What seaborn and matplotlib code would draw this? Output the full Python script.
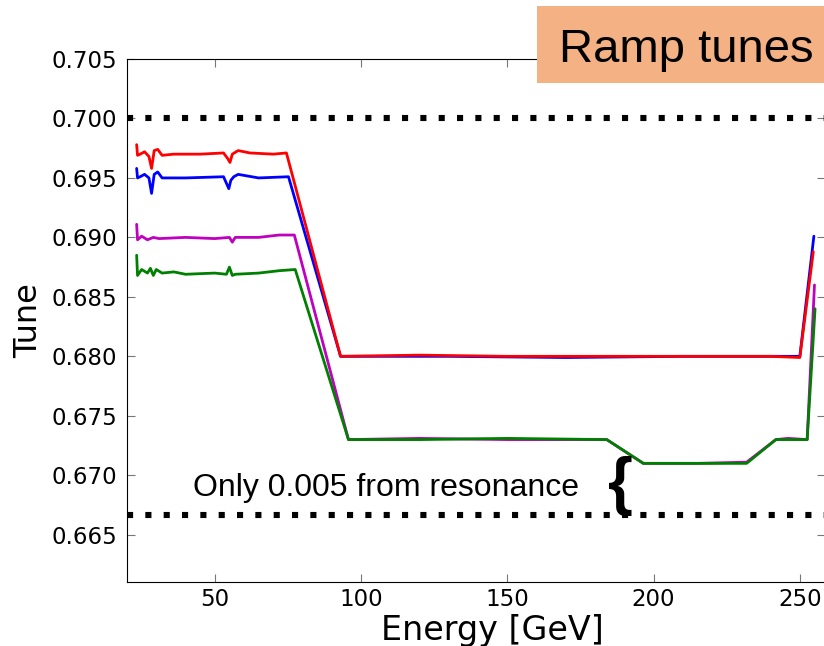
import matplotlib
matplotlib.use("Agg")
import matplotlib.pyplot as plt
import seaborn as sns
import pandas as pd
from matplotlib.patches import Rectangle

# tune values
red_energy = [23.3, 23.6, 24.5, 26, 27.5, 28.4, 29.3, 30.5, 32, 36, 45, 53, 54.5, 55.2, 56, 58, 62, 70, 74.5,
              93, 120, 150, 180, 210, 240, 250, 254.6]
red_tune = [0.6978, 0.6969, 0.6970, 0.6972, 0.6968, 0.6958, 0.6973, 0.6974, 0.6969, 0.6970, 0.6970, 0.6971,
            0.6966, 0.6963, 0.6970, 0.6973, 0.6971, 0.6970, 0.6971, 0.6800, 0.6801, 0.6800, 0.6800, 0.6800,
            0.6800, 0.6799, 0.6888]

blue_energy = [23.3, 23.6, 24.5, 26, 27.5, 28.4, 29.3, 30.5, 32, 40, 53, 54.8, 55.5, 56.5, 58, 65, 75.2,
               93, 130, 170, 210, 245, 250, 254.8]
blue_tune = [0.6958, 0.6950, 0.6951, 0.6953, 0.6950, 0.6937, 0.6953, 0.6955, 0.6950, 0.6950, 0.6951, 0.6941,
             0.6948, 0.6951, 0.6953, 0.6950, 0.6951, 0.6800, 0.6800, 0.6799, 0.6800, 0.6800, 0.6800, 0.6901]

magenta_energy = [23.3, 23.6, 25, 27, 29, 31, 40, 50, 55, 56, 57, 65, 72, 77.2, 95.7, 120, 150, 184, 196.5,
                  215, 231.8, 241.8, 246, 252.5, 255]
magenta_tune = [0.6911, 0.6898, 0.6901, 0.6898, 0.6900, 0.6899, 0.6900, 0.6899, 0.6900, 0.6896, 0.6900,
                0.6900, 0.6902, 0.6902, 0.6730, 0.6731, 0.6730, 0.6730, 0.6710, 0.6710, 0.6711, 0.6730,
                0.6731, 0.6730, 0.6860]

green_energy = [23.3, 23.6, 25, 27, 28, 29, 30, 32, 36, 40, 50, 54, 55, 56, 57, 65, 72, 77.5, 95.7, 120, 150,
                184, 196.5, 215, 231.8, 241.8, 246, 252.5, 255.2]
green_tune = [0.6885, 0.6868, 0.6873, 0.6870, 0.6874, 0.6868, 0.6873, 0.6870, 0.6871, 0.6869, 0.6870, 0.6869,
              0.6875, 0.6868, 0.6869, 0.6870, 0.6872, 0.6873, 0.6730, 0.6730, 0.6731, 0.6730, 0.6710, 0.6710,
              0.6710, 0.6730, 0.6730, 0.6730, 0.6840]

resonances = [0.700, 2 / 3]
x_ticks = [50, 100, 150, 200, 250]
y_ticks = [0.665, 0.670, 0.675, 0.680, 0.685, 0.690, 0.695, 0.700, 0.705]

frames = []
for name, e, t in [("blue", blue_energy, blue_tune), ("red", red_energy, red_tune),
                   ("magenta", magenta_energy, magenta_tune), ("green", green_energy, green_tune)]:
    frames.append(pd.DataFrame({"Energy": e, "Tune": t, "series": name}))
df = pd.concat(frames, ignore_index=True)

palette = {"red": "#ff0000", "blue": "#0000ff", "magenta": "#bf00bf", "green": "#008000"}

sns.set_style("white", {"xtick.direction": "in", "ytick.direction": "in",
                        "xtick.bottom": True, "ytick.left": True,
                        "axes.edgecolor": "black", "axes.linewidth": 1.0,
                        "text.color": "black", "axes.labelcolor": "black",
                        "xtick.color": "black", "ytick.color": "black"})
plt.rcParams["font.family"] = ["DejaVu Sans"]

fig = plt.figure(figsize=(8.24, 6.46), dpi=100)
ax = fig.add_axes([127 / 824, 1 - 582.3 / 646, (825 - 127) / 824, (582.3 - 59) / 646])

sns.lineplot(data=df, x="Energy", y="Tune", hue="series", palette=palette,
             hue_order=["blue", "red", "magenta", "green"], estimator=None, sort=False,
             linewidth=2.0, legend=False, ax=ax)

for r in resonances:
    ax.axhline(r, color="black", linewidth=4.4, linestyle=(0, (1, 2)), dash_capstyle="butt", zorder=3)

ax.set_xlim(20, 258.6)
ax.set_ylim(0.661, 0.705)
ax.set_xticks(x_ticks)
ax.set_yticks(y_ticks)
ax.set_yticklabels([f"{v:.3f}" for v in y_ticks])
ax.tick_params(axis="both", which="both", direction="in", top=True, right=True, length=6, width=0.8,
               color="#777777", labelcolor="black", labelsize=16.5)
ax.tick_params(axis="x", pad=4)
ax.tick_params(axis="y", pad=7)
ax.set_xlabel("Energy [GeV]", fontsize=24)
ax.set_ylabel("Tune", fontsize=23)
ax.xaxis.set_label_coords(0.523, -0.06)
ax.yaxis.set_label_coords(-0.119, 0.5)

ax.text(42.7, 0.66824, "Only 0.005 from resonance", fontsize=23, family="Liberation Sans",
        va="baseline", ha="left")
ax.text(188.6, 0.66908, "{", fontsize=46, family="Liberation Sans", fontweight="bold",
        va="center", ha="center")

# title box in the corner
fig.patches.append(Rectangle((537 / 824, 1 - 83 / 646), 300 / 824, 77 / 646, transform=fig.transFigure,
                             facecolor="#f4b183", edgecolor="none", zorder=5))
fig.text(559 / 824, 1 - 61.7 / 646, "Ramp tunes", fontsize=34, family="Liberation Sans",
         va="baseline", ha="left", zorder=6)

fig.savefig("out.png", dpi=100)
